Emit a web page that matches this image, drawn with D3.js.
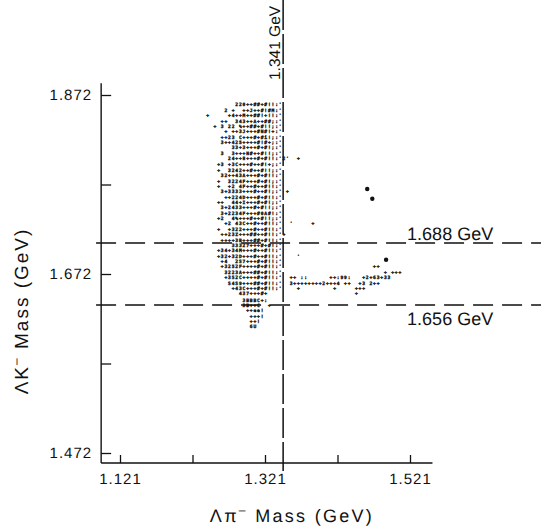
<!DOCTYPE html>
<html>
<head>
<meta charset="utf-8">
<script src="https://cdn.jsdelivr.net/npm/d3@7"></script>
<style>
  body { margin: 0; background: #fff; }
  svg { display: block; font-family: "Liberation Sans", Arial, sans-serif;
        -webkit-font-smoothing: antialiased; text-rendering: geometricPrecision; }
</style>
</head>
<body>
<svg width="541" height="531"></svg>
<script>
// axis ticks (GeV)
const xTicks = [1.121, 1.221, 1.321, 1.421, 1.521];
const xTickLabels = ["1.121", "", "1.321", "", "1.521"];
const yTicks = [1.472, 1.572, 1.672, 1.772, 1.872];
const yTickLabels = ["1.472", "", "1.672", "", "1.872"];

// cut lines, where they sit on the plot and what they are labelled
const cutX = [1.346];
const cutXLabels = ["1.341 GeV"];
const cutY = [1.7066, 1.6374];
const cutYLabels = ["1.688 GeV", "1.656 GeV"];

// printer-plot bins: ΛK⁻ mass of each printed row, columns start at colStart
const colStart = 1.242;
const binW = 0.005;
const rowMass = [1.861, 1.855, 1.849, 1.843, 1.837, 1.831, 1.825, 1.819, 1.813, 1.807,
  1.801, 1.795, 1.788, 1.782, 1.776, 1.770, 1.764, 1.758, 1.752, 1.746,
  1.740, 1.734, 1.728, 1.722, 1.716, 1.710, 1.704, 1.698, 1.692, 1.686,
  1.680, 1.674, 1.668, 1.662, 1.656, 1.650, 1.643, 1.637, 1.631, 1.625,
  1.619, 1.613];
const rowText = [
  "        220++##+#!!:'",
  "     2 +  ++J++#!#M:'",
  "+     +4++M++##!+!!:'",
  "    ++  343++A++##;:'",
  "  + 3 22 %++##+#!!;:'",
  "     + ++3J+++#N#!+:'",
  "    ++23 C+++#+#i!;:'",
  "    3++425++++#!#+;:'",
  "       33+3+++#+#!;:'",
  "    3  3+++N#++#!!;:'",
  "      24++8+++#+#!!:'",
  "   +3 +3C+++#++#!+;:'",
  "   +  3242++#++#!!;:'",
  "    32++43A+++#+#!!:'",
  "   +  3224F+++#+#!;:'",
  "   +  +2 4F++#++#!!:'",
  "    3+3333+++#++#!;:'",
  "     ++224D+++#+#!!:'",
  "   ++  44+I+++#+#!;:'",
  "    3+2433+++#+#!!;:'",
  "    3+2234F+++#0A#!:'",
  "   +2  4%+++#++#!!;:'",
  "     +2 43C++#++#!!:'",
  "   +  +322+++#++#!!:'",
  "    ++23Z+++##++#!!:'",
  "    ++++3B+++##+#!!:'",
  "       33327+++#+#!:'",
  "   +34+34M+++#++#!!:'",
  "   +32+32D+++#++#!!:'",
  "    +4  2S7+++#+#!!:'",
  "    +3252F++++#+#!!:'",
  "     3223A+++##+#!!:'",
  "     +3S2C++++#+#!!:'",
  "      S4S9+++##+#!!:'",
  "       +43C+++#+#!!:'",
  "         437+++#+",
  "          3BBBC+:",
  "          3B++C  +",
  "           ++ee!",
  "            +++!",
  "            ++!",
  "            6U"
];

// isolated entries right of the 1.341 cut: row index, column, printed text
const sideRow = [10, 10, 16, 22, 22, 24, 28, 30, 31, 31, 32, 32, 32, 32, 32, 33, 33, 33, 33, 34, 34, 34, 35];
const sideCol = [21, 25, 22, 23, 29, 21, 25, 46, 49, 51, 23, 26, 34, 36, 43, 23, 38, 42, 45, 25, 35, 41, 41];
const sideText = ["2'", "+", "+", "'", "+", "+", "'", "++", "+", "+++", "++", "::", "++", ":99:", "+2+63+33",
  "3++++++++2+++4", "++", "+3", "2++", "+", "+", "+++", "+"];

// heavy dots
const dotX = [1.462, 1.469, 1.488];
const dotY = [1.767, 1.756, 1.688];

const svg = d3.select("svg");
const W = 541;

const xScale = d3.scaleLinear().domain([1.121, 1.521]).range([120, 410]);
const yScale = d3.scaleLinear().domain([1.472, 1.872]).range([453, 95]);

const x0 = xScale(1.095);
const y0 = yScale(1.4608);

// axes
const yAxis = d3.axisLeft(yScale)
  .tickValues(yTicks)
  .tickSize(-10)
  .tickPadding(9)
  .tickFormat((d, i) => yTickLabels[i]);

const xAxis = d3.axisBottom(xScale)
  .tickValues(xTicks)
  .tickSize(-8)
  .tickPadding(10)
  .tickFormat((d, i) => xTickLabels[i]);

const gy = svg.append("g").attr("transform", `translate(${x0},0)`).call(yAxis);
const gx = svg.append("g").attr("transform", `translate(0,${y0})`).call(xAxis);

[gx, gy].forEach(g => {
  g.select(".domain").remove();
  g.selectAll(".tick line").attr("stroke", "#111").attr("stroke-width", 1.3);
  g.selectAll(".tick text")
    .attr("fill", "#111")
    .style("font-family", '"Liberation Sans", Arial, sans-serif')
    .style("font-size", "15px")
    .style("letter-spacing", "1px");
});

svg.append("line")
  .attr("x1", x0).attr("x2", x0)
  .attr("y1", yScale(1.885)).attr("y2", y0)
  .attr("stroke", "#111").attr("stroke-width", 1.4);
svg.append("line")
  .attr("x1", x0).attr("x2", xScale(1.552))
  .attr("y1", y0).attr("y2", y0)
  .attr("stroke", "#111").attr("stroke-width", 1.4);

// cut lines
svg.selectAll(".cuty").data(cutY).enter().append("line")
  .attr("class", "cuty")
  .attr("x1", xScale(1.088)).attr("x2", W)
  .attr("y1", d => yScale(d)).attr("y2", d => yScale(d))
  .attr("stroke", "#111").attr("stroke-width", 1.5)
  .attr("stroke-dasharray", "20,9");

svg.selectAll(".cutx").data(cutX).enter().append("line")
  .attr("class", "cutx")
  .attr("x1", d => xScale(d)).attr("x2", d => xScale(d))
  .attr("y1", 0).attr("y2", yScale(1.452))
  .attr("stroke", "#111").attr("stroke-width", 1.5)
  .attr("stroke-dasharray", "30,4");

svg.selectAll(".cutylab").data(cutY).enter().append("text")
  .attr("class", "cutylab")
  .attr("x", xScale(1.517))
  .attr("y", (d, i) => i === 0 ? yScale(d) - 3 : yScale(d) + 20)
  .attr("fill", "#111")
  .style("font-size", "18px")
  .text((d, i) => cutYLabels[i]);

svg.selectAll(".cutxlab").data(cutX).enter().append("text")
  .attr("class", "cutxlab")
  .attr("transform", d => `translate(${xScale(d) - 3},80) rotate(-90)`)
  .attr("fill", "#111")
  .style("font-size", "15.5px")
  .text((d, i) => cutXLabels[i]);

// printed counts
const cells = [];
rowText.forEach((s, r) => {
  for (let i = 0; i < s.length; i++) {
    if (s[i] !== " ") cells.push({ x: colStart + i * binW, y: rowMass[r], ch: s[i] });
  }
});
sideRow.forEach((r, k) => {
  const s = sideText[k];
  for (let i = 0; i < s.length; i++) {
    if (s[i] !== " ") cells.push({ x: colStart + (sideCol[k] + i) * binW, y: rowMass[r], ch: s[i] });
  }
});

svg.append("g")
  .style("font-family", '"DejaVu Sans Mono", monospace')
  .style("font-size", "4.6px")
  .style("font-weight", "bold")
  .style("opacity", 0.99)
  .selectAll("text")
  .data(cells)
  .enter()
  .append("text")
  .attr("x", d => xScale(d.x))
  .attr("y", d => yScale(d.y))
  .attr("dy", "0.35em")
  .attr("text-anchor", "middle")
  .attr("fill", "#111")
  .attr("stroke", "#111")
  .attr("stroke-width", 0.35)
  .text(d => d.ch);

svg.selectAll(".dot").data(dotX).enter().append("circle")
  .attr("class", "dot")
  .attr("cx", d => xScale(d))
  .attr("cy", (d, i) => yScale(dotY[i]))
  .attr("r", 2.2)
  .attr("fill", "#111");

// axis titles
const xt = svg.append("text")
  .attr("x", 292).attr("y", 522)
  .attr("text-anchor", "middle")
  .attr("fill", "#111")
  .style("font-size", "18px")
  .style("letter-spacing", "2.3px");
xt.append("tspan").text("Λπ");
xt.append("tspan").attr("dy", -8).style("font-size", "12px").text("–");
xt.append("tspan").attr("dy", 8).text(" Mass (GeV)");

const yt = svg.append("text")
  .attr("transform", "translate(28,311) rotate(-90)")
  .attr("text-anchor", "middle")
  .attr("fill", "#111")
  .style("font-size", "19px")
  .style("letter-spacing", "2px");
yt.append("tspan").text("ΛK");
yt.append("tspan").attr("dy", -8).style("font-size", "12px").text("–");
yt.append("tspan").attr("dy", 8).text(" Mass (GeV)");
</script>
</body>
</html>
